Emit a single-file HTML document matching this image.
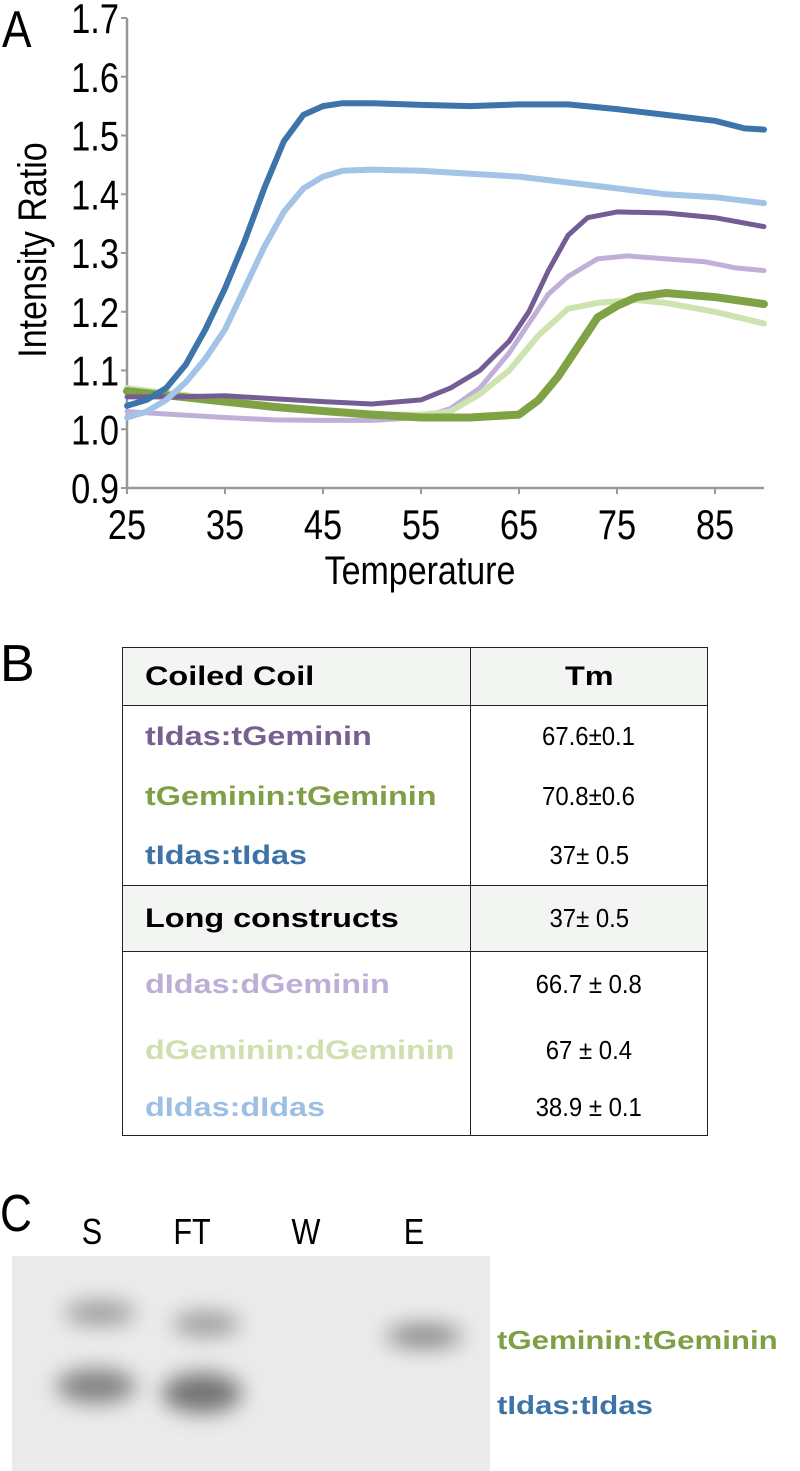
<!DOCTYPE html>
<html><head><meta charset="utf-8">
<style>
body{margin:0;background:#fff;width:800px;height:1471px;overflow:hidden;position:relative;font-family:"Liberation Sans",sans-serif}
.lbl{position:absolute;font-size:52px;color:#000;line-height:1}
table{position:absolute;left:122px;top:647px;border-collapse:collapse;width:586px}
td{border:1.5px solid #222;padding:0;font-size:26px}
.hd td{background:#f3f5f3;font-weight:bold;color:#000}
.n{font-weight:bold;padding-left:22px;font-size:27px;white-space:nowrap}
.n span,.w{display:inline-block;transform:scaleX(1.2);transform-origin:left}
.v{text-align:center}
.v div span{display:inline-block;transform:scaleX(0.92)}
</style></head><body>
<div class="lbl" style="left:2px;top:4px;transform:scaleX(0.85);transform-origin:left">A</div>
<svg id="chart" width="800" height="600" style="position:absolute;left:0;top:0"></svg>
<div class="lbl" style="left:0px;top:638px">B</div>
<table>
<tr class="hd" style="height:58px"><td class="n" style="width:325px"><span>Coiled Coil</span></td><td class="v" style="font-weight:bold;font-size:27px"><span class="w" style="transform-origin:center">Tm</span></td></tr>
<tr><td style="padding:0;border-bottom:1.5px solid #222"><div class="n" style="height:60px;line-height:60px;color:#76608f"><span>tIdas:tGeminin</span></div><div class="n" style="height:60px;line-height:60px;color:#7f9f45"><span>tGeminin:tGeminin</span></div><div class="n" style="height:59px;line-height:59px;color:#3e73a8"><span>tIdas:tIdas</span></div></td>
<td class="v"><div style="height:60px;line-height:60px"><span>67.6±0.1</span></div><div style="height:60px;line-height:60px"><span>70.8±0.6</span></div><div style="height:59px;line-height:59px"><span>37± 0.5</span></div></td></tr>
<tr class="hd" style="height:66px"><td class="n"><span>Long constructs</span></td><td class="v" style="font-weight:normal"><div><span>37± 0.5</span></div></td></tr>
<tr><td><div class="n" style="height:66px;line-height:64px;color:#bcaed6"><span>dIdas:dGeminin</span></div><div class="n" style="height:64px;line-height:64px;color:#cde0ad"><span>dGeminin:dGeminin</span></div><div class="n" style="height:53px;line-height:50px;color:#9dbfe3"><span>dIdas:dIdas</span></div></td>
<td class="v"><div style="height:66px;line-height:64px"><span>66.7 ± 0.8</span></div><div style="height:64px;line-height:64px"><span>67 ± 0.4</span></div><div style="height:53px;line-height:50px"><span>38.9 ± 0.1</span></div></td></tr>
</table>
<div class="lbl" style="left:0px;top:1188px;transform:scaleX(0.85);transform-origin:left">C</div>
<svg width="800" height="1471" style="position:absolute;left:0;top:0">
<defs><filter id="b" x="-50%" y="-80%" width="200%" height="260%"><feGaussianBlur stdDeviation="11"/></filter></defs>
<g font-family="Liberation Sans, sans-serif" font-size="36" text-anchor="middle">
<text x="92" y="1244" transform="translate(92,0) scale(0.85,1) translate(-92,0)">S</text>
<text x="192" y="1244" transform="translate(192,0) scale(0.85,1) translate(-192,0)">FT</text>
<text x="306" y="1244" transform="translate(306,0) scale(0.85,1) translate(-306,0)">W</text>
<text x="414" y="1244" transform="translate(414,0) scale(0.85,1) translate(-414,0)">E</text>
</g>
<rect x="12" y="1256" width="478" height="215" fill="#ebebeb"/>
<g filter="url(#b)">
<ellipse cx="100" cy="1313" rx="36" ry="12" fill="#9a9a9a"/>
<ellipse cx="206" cy="1324" rx="34" ry="12" fill="#999"/>
<ellipse cx="424" cy="1336" rx="38" ry="12" fill="#888"/>
<ellipse cx="96" cy="1386" rx="40" ry="17" fill="#808080"/>
<ellipse cx="202" cy="1393" rx="40" ry="20" fill="#727272"/>
</g>
<text x="0" y="0" transform="translate(497,1349) scale(1.2,1)" font-family="Liberation Sans, sans-serif" font-weight="bold" font-size="26" fill="#7f9f45">tGeminin:tGeminin</text>
<text x="0" y="0" transform="translate(497,1414) scale(1.2,1)" font-family="Liberation Sans, sans-serif" font-weight="bold" font-size="26" fill="#3e73a8">tIdas:tIdas</text>
</svg>
<script>
const yTicks=[0.9,1.0,1.1,1.2,1.3,1.4,1.5,1.6,1.7];
const yTickLabels=["0.9","1.0","1.1","1.2","1.3","1.4","1.5","1.6","1.7"];
const xTicks=[25,35,45,55,65,75,85];
const xTickLabels=["25","35","45","55","65","75","85"];
const tBlue=[25,27,29,31,33,35,37,39,41,43,45,47,50,55,60,65,70,75,80,85,88,90];
const vBlue=[1.04,1.05,1.07,1.11,1.17,1.24,1.32,1.41,1.49,1.535,1.55,1.555,1.555,1.552,1.55,1.553,1.553,1.545,1.535,1.525,1.512,1.51];
const tLBlue=[25,27,29,31,33,35,37,39,41,43,45,47,50,55,60,65,70,75,80,85,90];
const vLBlue=[1.02,1.03,1.05,1.08,1.12,1.17,1.24,1.31,1.37,1.41,1.43,1.44,1.442,1.44,1.435,1.43,1.42,1.41,1.40,1.395,1.385];
const tPurple=[25,30,35,40,45,50,55,58,61,64,66,68,70,72,75,80,85,90];
const vPurple=[1.055,1.055,1.057,1.052,1.047,1.043,1.05,1.07,1.10,1.15,1.20,1.27,1.33,1.36,1.37,1.368,1.36,1.345];
const tLPurple=[25,30,35,40,45,50,55,58,61,64,66,68,70,73,76,80,84,87,90];
const vLPurple=[1.03,1.025,1.02,1.016,1.015,1.015,1.02,1.035,1.07,1.13,1.18,1.23,1.26,1.29,1.295,1.29,1.285,1.275,1.27];
const tGreen=[25,30,35,40,45,50,55,60,65,67,69,71,73,75,77,80,85,90];
const vGreen=[1.065,1.056,1.047,1.038,1.031,1.025,1.02,1.02,1.025,1.05,1.09,1.14,1.19,1.21,1.225,1.232,1.225,1.213];
const tLGreen=[25,30,35,40,45,50,55,58,61,64,67,70,73,77,80,85,90];
const vLGreen=[1.07,1.06,1.05,1.04,1.03,1.025,1.025,1.03,1.06,1.10,1.16,1.205,1.215,1.22,1.215,1.2,1.18];
const X=t=>127+(t-25)*9.8;
const Y=v=>488-(v-0.9)*587.5;
const svg=document.getElementById('chart');
const NS='http://www.w3.org/2000/svg';
function mk(tag,attrs){const e=document.createElementNS(NS,tag);for(const k in attrs)e.setAttribute(k,attrs[k]);svg.appendChild(e);return e;}
const ax=mk('path',{d:`M${X(25)},${Y(1.7)}V${Y(0.9)}H${X(90)}`,stroke:'#999',fill:'none','stroke-width':2.5});


yTicks.forEach((v,i)=>{
 const tk=mk('line',{x1:X(25)-6,x2:X(25),y1:Y(v),y2:Y(v),stroke:'#999','stroke-width':2});
 
 
 const t=mk('text',{x:0,y:0,'font-size':42,'text-anchor':'end','font-family':'Liberation Sans, sans-serif',transform:`translate(${X(25)-8},${Y(v)+15}) scale(0.82,1)`});
 t.textContent=yTickLabels[i];
 
 
});
xTicks.forEach((v,i)=>{
 const tk=mk('line',{x1:X(v),x2:X(v),y1:Y(0.9),y2:Y(0.9)+6,stroke:'#999','stroke-width':2});
 
 
 const t=mk('text',{x:0,y:0,'font-size':42,'text-anchor':'middle','font-family':'Liberation Sans, sans-serif',transform:`translate(${X(v)},${Y(0.9)+51}) scale(0.82,1)`});
 t.textContent=xTickLabels[i];
 
 
});
const xt=mk('text',{x:0,y:0,'font-size':40,'text-anchor':'middle','font-family':'Liberation Sans, sans-serif',transform:`translate(420,584) scale(0.85,1)`});
xt.textContent='Temperature';


const yt=mk('text',{x:0,y:0,'font-size':40,'text-anchor':'middle','font-family':'Liberation Sans, sans-serif',transform:`translate(46,250) rotate(-90) scale(0.85,1)`});
yt.textContent='Intensity Ratio';


function series(ts,vs,color,w,name){
 const d=ts.map((t,i)=>(i?'L':'M')+X(t).toFixed(1)+','+Y(vs[i]).toFixed(1)).join('');
 const p=mk('path',{d,stroke:color,'stroke-width':w,fill:'none','stroke-linejoin':'round','stroke-linecap':'round'});
 
 
}
series(tLPurple,vLPurple,'#c0b0d8',5,'series-didas-dgeminin');
series(tLGreen,vLGreen,'#cde3b0',6,'series-dgeminin-dgeminin');
series(tGreen,vGreen,'#7fa245',8,'series-tgeminin-tgeminin');
series(tPurple,vPurple,'#735d94',5,'series-tidas-tgeminin');
series(tLBlue,vLBlue,'#a3c4e6',6,'series-didas-didas');
series(tBlue,vBlue,'#3d74aa',6,'series-tidas-tidas');
</script>
</body></html>
